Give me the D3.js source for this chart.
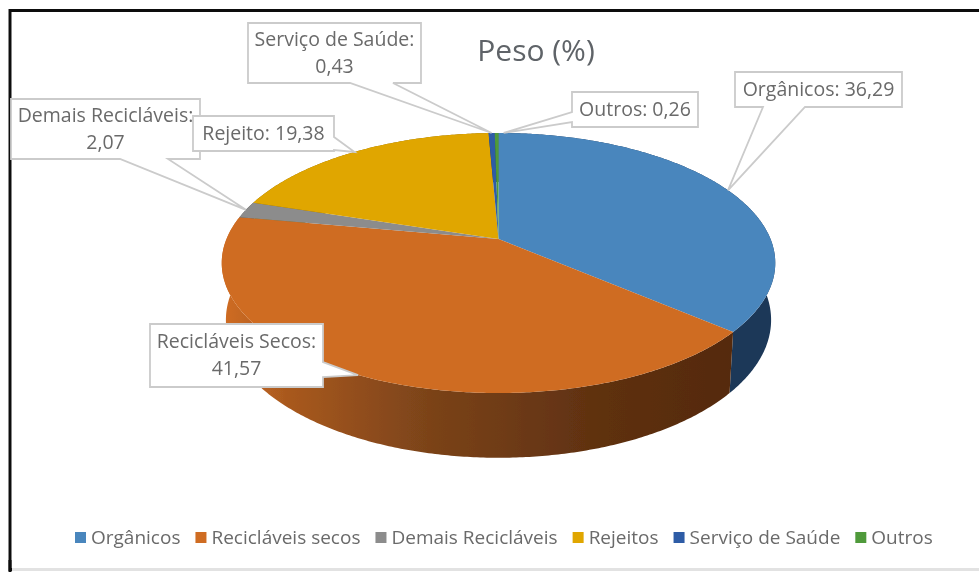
<!DOCTYPE html>
<html>
<head>
<meta charset="utf-8">
<script src="https://cdn.jsdelivr.net/npm/d3@7"></script>
<style>
  body { margin: 0; background: #fff; overflow: hidden; }
  text { font-family: "Open Sans", sans-serif; fill: #6a6a6a; }
</style>
</head>
<body>
<div id="chart"></div>
<script>
const width = 979;
const height = 572;

const categories = ["Orgânicos", "Recicláveis secos", "Demais Recicláveis", "Rejeitos", "Serviço de Saúde", "Outros"];
const pesoValues = [36.29, 41.57, 2.07, 19.38, 0.43, 0.26];
const valueLabels = [
  ["Orgânicos: 36,29"],
  ["Recicláveis Secos:", "41,57"],
  ["Demais Recicláveis:", "2,07"],
  ["Rejeito: 19,38"],
  ["Serviço de Saúde:", "0,43"],
  ["Outros: 0,26"]
];

const faceColors = ["#4a86bd", "#cf6c22", "#8c8c8c", "#e0a600", "#2d5ca6", "#4f9a3a"];
const wallColors = ["#1d3858", "url(#wall-orange)", "#555", "#8a6600", "#1a3663", "#2f5c22"];

// callout boxes: x, y, w, h, then where the pointer leaves the box
const boxes = [
  { x: 735, y: 72, w: 167, h: 35, side: "bottom", a: 763, b: 805 },
  { x: 150, y: 324, w: 173, h: 63, side: "right", a: 362, b: 377 },
  { x: 11, y: 99, w: 189, h: 60, side: "bottom", a: 120, b: 168 },
  { x: 193, y: 116, w: 141, h: 35, side: "right", a: 137, b: 150 },
  { x: 248, y: 23, w: 173, h: 60, side: "bottom", a: 350, b: 393 },
  { x: 572, y: 92, w: 126, h: 35, side: "left", a: 112, b: 122 }
];
const tipNudge = [0, 0, 0, 0, 0, 7];

// perspective pie: centre of the pie is not the centre of the ellipse
const apex = { x: 498.5, y: 239 };
const a = 272, b = 125.6, k = 0.1846;
const wallScaleX = 0.985, wallScaleY = 1.06, wallDrop = 55.5;

function project(angle, r = 1) {
  const u = Math.sin(angle) * r, v = -Math.cos(angle) * r;
  const w = 1 - k * v;
  return [apex.x + a * u / w, apex.y + b * v / w];
}
function projectWall(angle) {
  const [x, y] = project(angle);
  return [apex.x + (x - apex.x) * wallScaleX, apex.y + wallDrop + (y - apex.y) * wallScaleY];
}
function rim(d, fn) {
  const n = Math.max(2, Math.ceil((d.endAngle - d.startAngle) / 0.01));
  return d3.range(n + 1).map(i => fn(d.startAngle + (d.endAngle - d.startAngle) * i / n));
}

const svg = d3.select("#chart").append("svg").attr("width", width).attr("height", height);
const defs = svg.append("defs");

defs.append("filter").attr("id", "soft")
    .append("feGaussianBlur").attr("stdDeviation", 0.55);

const grad = defs.append("linearGradient").attr("id", "wall-orange")
    .attr("gradientUnits", "userSpaceOnUse")
    .attr("x1", 225).attr("x2", 735).attr("y1", 0).attr("y2", 0);
grad.selectAll("stop")
    .data([[0, "#cf6c22"], [0.12, "#a9591f"], [0.4, "#7b4319"], [0.75, "#5e3010"], [1, "#552a0c"]])
    .enter().append("stop")
    .attr("offset", d => d[0]).attr("stop-color", d => d[1]);

const root = svg.append("g").attr("filter", "url(#soft)");

// frame
root.append("rect").attr("x", 10).attr("y", 10.5).attr("width", 980).attr("height", 559)
    .attr("fill", "#fff").attr("stroke", "#111").attr("stroke-width", 3);
root.append("line").attr("x1", 12).attr("x2", 979).attr("y1", 569.5).attr("y2", 569.5)
    .attr("stroke", "#e2e2e2").attr("stroke-width", 3);
root.append("line").attr("x1", 10).attr("x2", 10).attr("y1", 560).attr("y2", 572)
    .attr("stroke", "#111").attr("stroke-width", 3);

const pie = d3.pie().value(d => d).sort(null);
const slices = pie(pesoValues);
const line = d3.line();

// side wall first, the top face covers whatever is behind it
root.selectAll("path.wall")
    .data(slices)
    .enter().append("path")
    .attr("class", "wall")
    .attr("fill", (d, i) => wallColors[i])
    .attr("d", d => line(rim(d, project).concat(rim(d, projectWall).reverse())) + "Z");

root.selectAll("path.face")
    .data(slices)
    .enter().append("path")
    .attr("class", "face")
    .attr("fill", (d, i) => faceColors[i])
    .attr("d", d => line([[apex.x, apex.y]].concat(rim(d, project))) + "Z");

// title
root.append("text").attr("x", 536).attr("y", 61).attr("text-anchor", "middle")
    .style("font-size", "30px").style("fill", "#5f6468").text("Peso (%)");

// callouts
function calloutPath(box, tip) {
  const x0 = box.x, y0 = box.y, x1 = box.x + box.w, y1 = box.y + box.h;
  if (box.side === "bottom")
    return `M${x0},${y0}H${x1}V${y1}H${box.b}L${tip[0]},${tip[1]}L${box.a},${y1}H${x0}Z`;
  if (box.side === "right")
    return `M${x0},${y0}H${x1}V${box.a}L${tip[0]},${tip[1]}L${x1},${box.b}V${y1}H${x0}Z`;
  return `M${x0},${y0}H${x1}V${y1}H${x0}V${box.b}L${tip[0]},${tip[1]}L${x0},${box.a}Z`;
}

const callouts = root.selectAll("g.callout")
    .data(slices)
    .enter().append("g")
    .attr("class", "callout");

callouts.append("path")
    .attr("fill", "#fff").attr("stroke", "#cbcbcb").attr("stroke-width", 1.8)
    .attr("d", (d, i) => {
      const tip = project((d.startAngle + d.endAngle) / 2);
      return calloutPath(boxes[i], [tip[0] + tipNudge[i], tip[1]]);
    });

callouts.each(function(d, i) {
  const box = boxes[i], lines = valueLabels[i];
  const cx = box.x + box.w / 2;
  const y0 = box.y + box.h / 2 + 6 - (lines.length - 1) * 13.5;
  d3.select(this).selectAll("text")
    .data(lines)
    .enter().append("text")
    .attr("x", cx)
    .attr("y", (t, j) => y0 + j * 27)
    .attr("text-anchor", "middle")
    .style("font-size", "19.5px")
    .text(t => t);
});

// legend, laid out from the measured label widths
const legend = root.append("g").attr("class", "legend");
let legendX = 75;
categories.forEach((name, i) => {
  legend.append("rect").attr("x", legendX).attr("y", 532).attr("width", 11).attr("height", 11)
      .attr("fill", faceColors[i]);
  const t = legend.append("text").attr("x", legendX + 16).attr("y", 544)
      .style("font-size", "19px").text(name);
  legendX += 16 + t.node().getComputedTextLength() + 15;
});
</script>
</body>
</html>
